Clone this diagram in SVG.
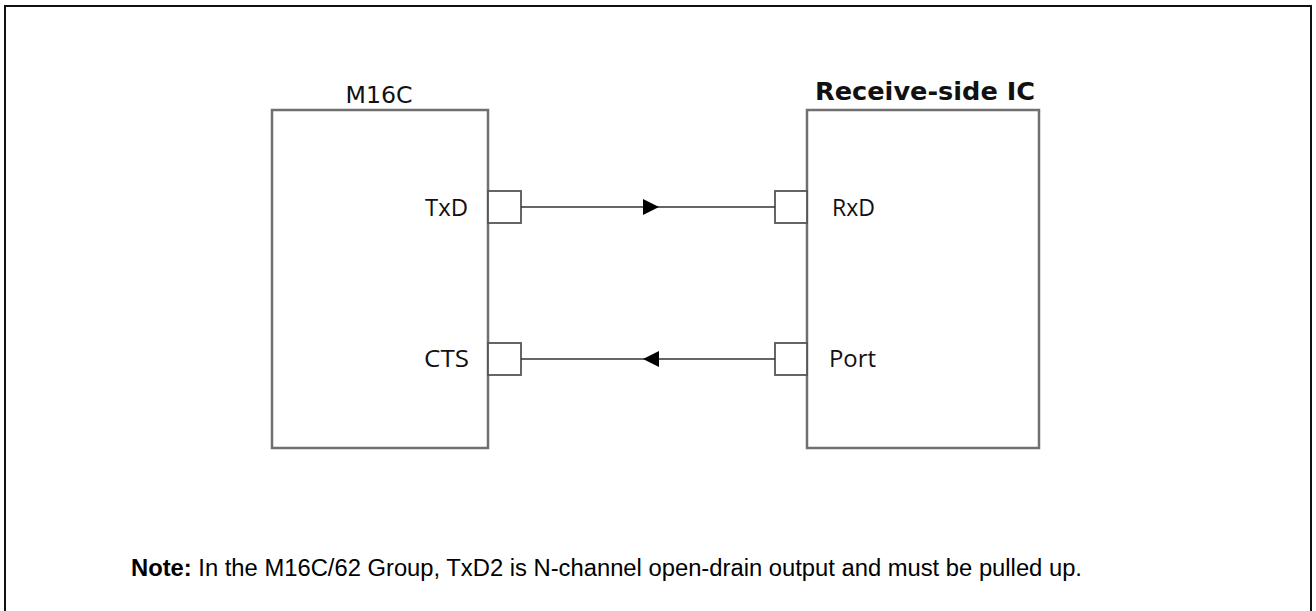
<svg xmlns="http://www.w3.org/2000/svg" width="1316" height="611" viewBox="0 0 1316 611">
<style>
.frame{fill:none;stroke:#111;stroke-width:2}
.box{fill:#fff;stroke:#707070;stroke-width:2.5}
.pin{fill:#fff;stroke:#555;stroke-width:1.8}
.wire{fill:none;stroke:#333;stroke-width:1.6}
.lbl{font-family:"Open Sans","Liberation Sans",sans-serif;font-size:24px;fill:#111}
.title{font-family:"DejaVu Sans",sans-serif;font-size:23px;fill:#111}
.titleb{font-family:"DejaVu Sans",sans-serif;font-size:24px;font-weight:bold;fill:#111}
.note{font-family:"Liberation Sans",Arial,sans-serif;font-size:23.5px;fill:#000}
</style>
<rect width="1316" height="611" fill="#fff"/>
<rect class="frame" x="5" y="6" width="1306" height="620"/>
<g id="m16c">
<rect class="box" x="272" y="110" width="216" height="338"/>
<text class="title" x="379" y="103" text-anchor="middle" textLength="67" lengthAdjust="spacingAndGlyphs">M16C</text>
<rect class="pin" x="488" y="191" width="33" height="32"/>
<rect class="pin" x="488" y="343" width="33" height="32"/>
<text class="lbl" x="468" y="216" text-anchor="end" textLength="43" lengthAdjust="spacingAndGlyphs">TxD</text>
<text class="lbl" x="469" y="367" text-anchor="end" textLength="45" lengthAdjust="spacingAndGlyphs">CTS</text>
</g>
<g id="receiver">
<rect class="box" x="807" y="110" width="232" height="338"/>
<text class="titleb" x="815" y="100" textLength="220" lengthAdjust="spacingAndGlyphs">Receive-side IC</text>
<rect class="pin" x="775" y="191" width="32" height="32"/>
<rect class="pin" x="775" y="343" width="32" height="32"/>
<text class="lbl" x="832" y="216" textLength="43" lengthAdjust="spacingAndGlyphs">RxD</text>
<text class="lbl" x="829" y="367" textLength="47" lengthAdjust="spacingAndGlyphs">Port</text>
</g>
<g id="connectors">
<line class="wire" x1="521" y1="207" x2="775" y2="207"/>
<path d="M643,199 L659,207 L643,215 Z" fill="#000"/>
<line class="wire" x1="521" y1="359" x2="775" y2="359"/>
<path d="M659,351 L643,359 L659,367 Z" fill="#000"/>
</g>
<g id="note">
<text class="note" x="131" y="576" textLength="951" lengthAdjust="spacingAndGlyphs"><tspan font-weight="bold">Note:</tspan> In the M16C/62 Group, TxD2 is N-channel open-drain output and must be pulled up.</text>
</g>
</svg>
